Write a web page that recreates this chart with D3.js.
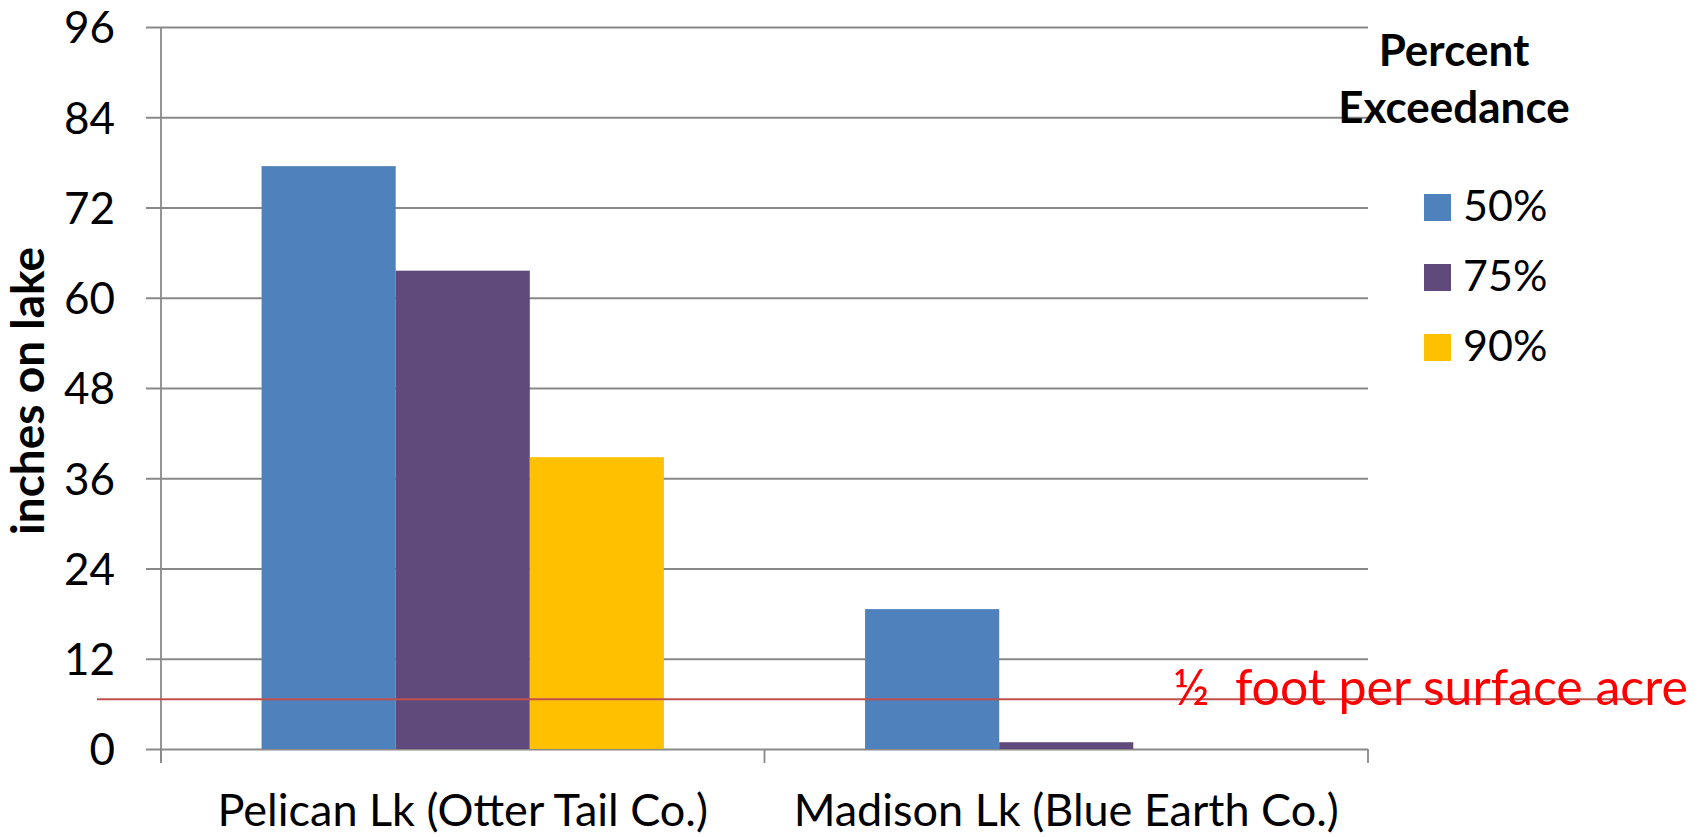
<!DOCTYPE html>
<html>
<head>
<meta charset="utf-8">
<script src="https://cdn.jsdelivr.net/npm/d3@7"></script>
<style>
  body { margin: 0; background: #fff; }
  text { font-family: Lato, "Open Sans", sans-serif; }
</style>
</head>
<body>
<svg id="chart"></svg>
<script>
// data
var lakes = ["Pelican Lk (Otter Tail Co.)", "Madison Lk (Blue Earth Co.)"]
var exceedance = ["50%", "75%", "90%"]
var values50 = [77.5, 18.6]
var values75 = [63.6, 0.9]
var values90 = [38.8, 0]
var yTicks = [0, 12, 24, 36, 48, 60, 72, 84, 96]
var halfFoot = 6.6
var colors = ["#4F81BD", "#604A7B", "#FFC000"]

var dimensions = {
  width: 1705,
  height: 837,
  margin: { top: 27, bottom: 88, right: 337, left: 161 }
}

var svg = d3.select("#chart")
  .attr("width", dimensions.width)
  .attr("height", dimensions.height)

var plotRight = dimensions.width - dimensions.margin.right
var plotBottom = dimensions.height - dimensions.margin.bottom

var yScale = d3.scaleLinear()
  .domain([0, 96])
  .range([plotBottom, dimensions.margin.top])

var x0 = d3.scaleBand()
  .domain(lakes)
  .range([dimensions.margin.left, plotRight])

var x1 = d3.scaleBand()
  .domain(exceedance)
  .range([0, x0.bandwidth()])
  .paddingInner(0)
  .paddingOuter(0.75)

var rows = []
lakes.forEach(function(lake, i) {
  var vals = [values50[i], values75[i], values90[i]]
  exceedance.forEach(function(e, j) {
    rows.push({ lake: lake, key: e, value: vals[j], color: colors[j] })
  })
})

// gridlines + y tick labels
var yAxisGen = d3.axisLeft(yScale)
  .tickValues(yTicks)
  .tickSize(-(plotRight - (dimensions.margin.left - 15)))
  .tickPadding(31)
var yAxis = svg.append("g")
  .attr("transform", `translate(${dimensions.margin.left - 15},0)`)
  .call(yAxisGen)
yAxis.select(".domain").remove()
yAxis.selectAll("line").attr("stroke", "#898989").attr("stroke-width", 1.8)
yAxis.selectAll("text")
  .style("font-size", "44px")
  .attr("fill", "#000")
  .attr("dy", "0.36em")

// vertical axis line
svg.append("line")
  .attr("x1", dimensions.margin.left).attr("x2", dimensions.margin.left)
  .attr("y1", dimensions.margin.top).attr("y2", plotBottom + 14)
  .attr("stroke", "#898989").attr("stroke-width", 1.8)

// category boundary ticks
var edges = lakes.map(d => x0(d)).concat([plotRight])
svg.append("g").selectAll("line")
  .data(edges)
  .enter()
  .append("line")
  .attr("x1", d => d).attr("x2", d => d)
  .attr("y1", plotBottom).attr("y2", plotBottom + 14)
  .attr("stroke", "#898989").attr("stroke-width", 1.8)

// bars
svg.append("g")
  .selectAll("rect")
  .data(rows.filter(d => d.value > 0))
  .enter()
  .append("rect")
  .attr("x", d => x0(d.lake) + x1(d.key))
  .attr("y", d => yScale(d.value))
  .attr("width", x1.bandwidth())
  .attr("height", d => yScale(0) - yScale(d.value))
  .attr("fill", d => d.color)

// category labels
var xAxisGen = d3.axisBottom(x0).tickSize(0)
var xAxis = svg.append("g")
  .attr("transform", `translate(0,${plotBottom})`)
  .call(xAxisGen)
xAxis.select(".domain").remove()
xAxis.selectAll("text")
  .attr("y", 77)
  .attr("dy", 0)
  .style("font-size", "45px")
  .attr("fill", "#000")

// half foot reference line
svg.append("line")
  .attr("x1", 97).attr("x2", 1649)
  .attr("y1", yScale(halfFoot)).attr("y2", yScale(halfFoot))
  .attr("stroke", "#C0504D").attr("stroke-width", 2)

svg.append("text")
  .text("½  foot per surface acre")
  .style("white-space", "pre")
  .attr("x", 1173)
  .attr("y", 705)
  .style("font-size", "50px")
  .attr("fill", "#FF0000")

// y title
svg.append("text")
  .text("inches on lake")
  .attr("text-anchor", "middle")
  .attr("transform", "translate(44, 391) rotate(-90)")
  .style("font-size", "46px")
  .style("font-weight", "bold")

// legend
var legend = svg.append("g")
legend.append("text")
  .text("Percent")
  .attr("x", 1454).attr("y", 66)
  .attr("text-anchor", "middle")
  .style("font-size", "44px").style("font-weight", "bold")
legend.append("text")
  .text("Exceedance")
  .attr("x", 1454).attr("y", 123)
  .attr("text-anchor", "middle")
  .style("font-size", "44px").style("font-weight", "bold")

var items = legend.selectAll(".item")
  .data(exceedance)
  .enter()
  .append("g")
  .attr("class", "item")
  .attr("transform", (d, i) => `translate(1424,${194 + i * 70})`)
items.append("rect")
  .attr("width", 27).attr("height", 27)
  .attr("fill", (d, i) => colors[i])
items.append("text")
  .text(d => d)
  .attr("x", 39).attr("y", 27)
  .style("font-size", "43px")
</script>
</body>
</html>
